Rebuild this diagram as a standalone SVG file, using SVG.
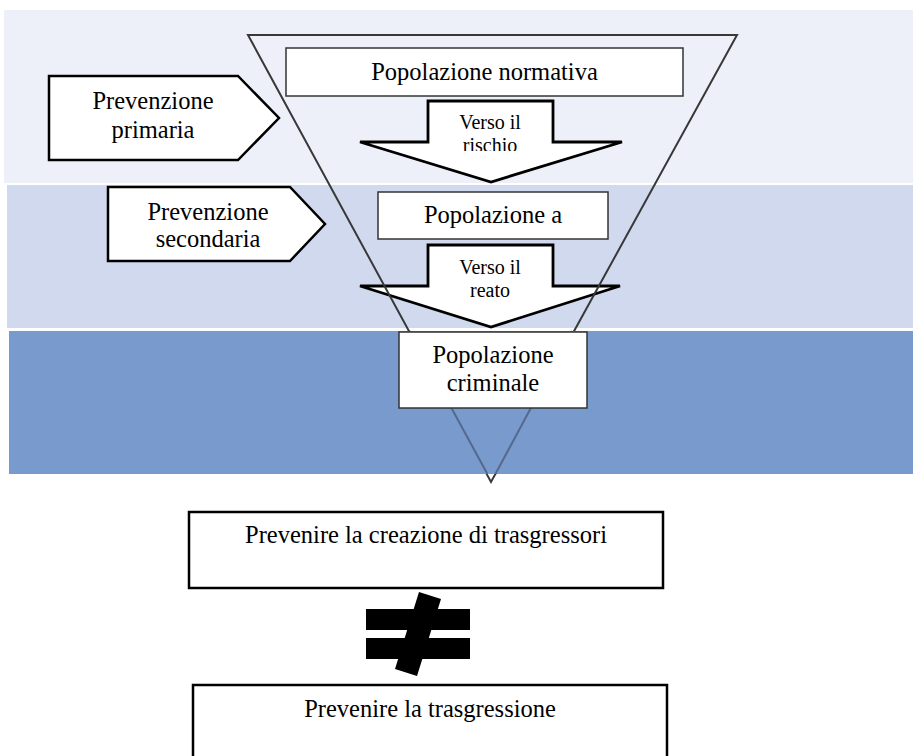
<svg xmlns="http://www.w3.org/2000/svg" width="913" height="756" viewBox="0 0 913 756">
  <style>
    .lbl { font-family: "Liberation Serif", "Times New Roman", serif; fill: #000; text-anchor: middle; }
    .big { font-size: 24.5px; }
    .small { font-size: 20px; }
    .box { fill: #fff; stroke: #333; stroke-width: 1.5; }
    .boxb { fill: #fff; stroke: #000; stroke-width: 2.5; }
    .pent { fill: #fff; stroke: #000; stroke-width: 2.5; stroke-linejoin: miter; }
    .arrow { fill: #fff; stroke: #000; stroke-width: 2.8; stroke-linejoin: miter; }
    .funnel { fill: none; stroke: #383838; stroke-width: 2; }
  </style>
  <defs>
    <clipPath id="clipRischio">
      <rect x="400" y="100" width="200" height="51"/>
    </clipPath>
  </defs>

  <rect width="913" height="756" fill="#fff"/>

  <!-- prevention levels -->
  <g id="bands">
    <rect x="4" y="10" width="909" height="173" fill="#EDF0F9"/>
    <rect x="7" y="185" width="906" height="143" fill="#D0D9EE"/>
  </g>

  <g id="connectors">
    <g id="arrow-rischio">
      <polygon class="arrow" points="428,101 553,101 553,142 622,142 491,182 360,142 428,142"/>
      <g clip-path="url(#clipRischio)">
        <text class="lbl small" x="490" y="129">Verso il</text>
        <text class="lbl small" x="490" y="152">rischio</text>
      </g>
    </g>
    <g id="arrow-reato">
      <polygon class="arrow" points="428,245 553,245 553,286 620,286 491,327 360,286 428,286"/>
      <text class="lbl small" x="490" y="274">Verso il</text>
      <text class="lbl small" x="490" y="297">reato</text>
    </g>
  </g>

  <!-- funnel -->
  <g id="funnel">
    <polygon class="funnel" points="248,35 737,35 491,482"/>
    <rect x="9" y="331" width="904" height="143" fill="#789ACD"/>
    <line x1="409.5" y1="331" x2="487.4" y2="474" stroke="#55698C" stroke-width="2"/>
    <line x1="572.2" y1="331" x2="495.4" y2="474" stroke="#55698C" stroke-width="2"/>
  </g>

  <g id="prevenzione-primaria">
    <polygon class="pent" points="49,76 238,76 279,118 238,160 49,160"/>
    <text class="lbl big" x="153" y="109">Prevenzione</text>
    <text class="lbl big" x="153" y="138">primaria</text>
  </g>

  <g id="prevenzione-secondaria">
    <polygon class="pent" points="108,187 290,187 325,224 290,261 108,261"/>
    <text class="lbl big" x="208" y="220">Prevenzione</text>
    <text class="lbl big" x="208" y="247">secondaria</text>
  </g>

  <g id="popolazione-normativa">
    <rect class="box" x="286" y="48" width="397" height="48"/>
    <text class="lbl big" x="484.5" y="80">Popolazione normativa</text>
  </g>

  <g id="popolazione-a">
    <rect class="box" x="378" y="192" width="230" height="47"/>
    <text class="lbl big" x="493" y="223">Popolazione a</text>
  </g>

  <g id="popolazione-criminale">
    <rect class="box" x="399" y="332" width="188" height="76"/>
    <text class="lbl big" x="493" y="363">Popolazione</text>
    <text class="lbl big" x="493" y="391">criminale</text>
  </g>

  <g id="prevenire-creazione">
    <rect class="boxb" x="189" y="512" width="474" height="76"/>
    <text class="lbl big" x="426" y="543">Prevenire la creazione di trasgressori</text>
  </g>

  <g id="diverso">
    <rect x="366" y="609" width="104" height="21" fill="#000"/>
    <rect x="366" y="638" width="104" height="21" fill="#000"/>
    <polygon points="419,592 441,599 417,676 395,669" fill="#000"/>
  </g>

  <g id="prevenire-trasgressione">
    <rect class="boxb" x="193" y="685" width="474" height="80"/>
    <text class="lbl big" x="430" y="717">Prevenire la trasgressione</text>
  </g>
</svg>
